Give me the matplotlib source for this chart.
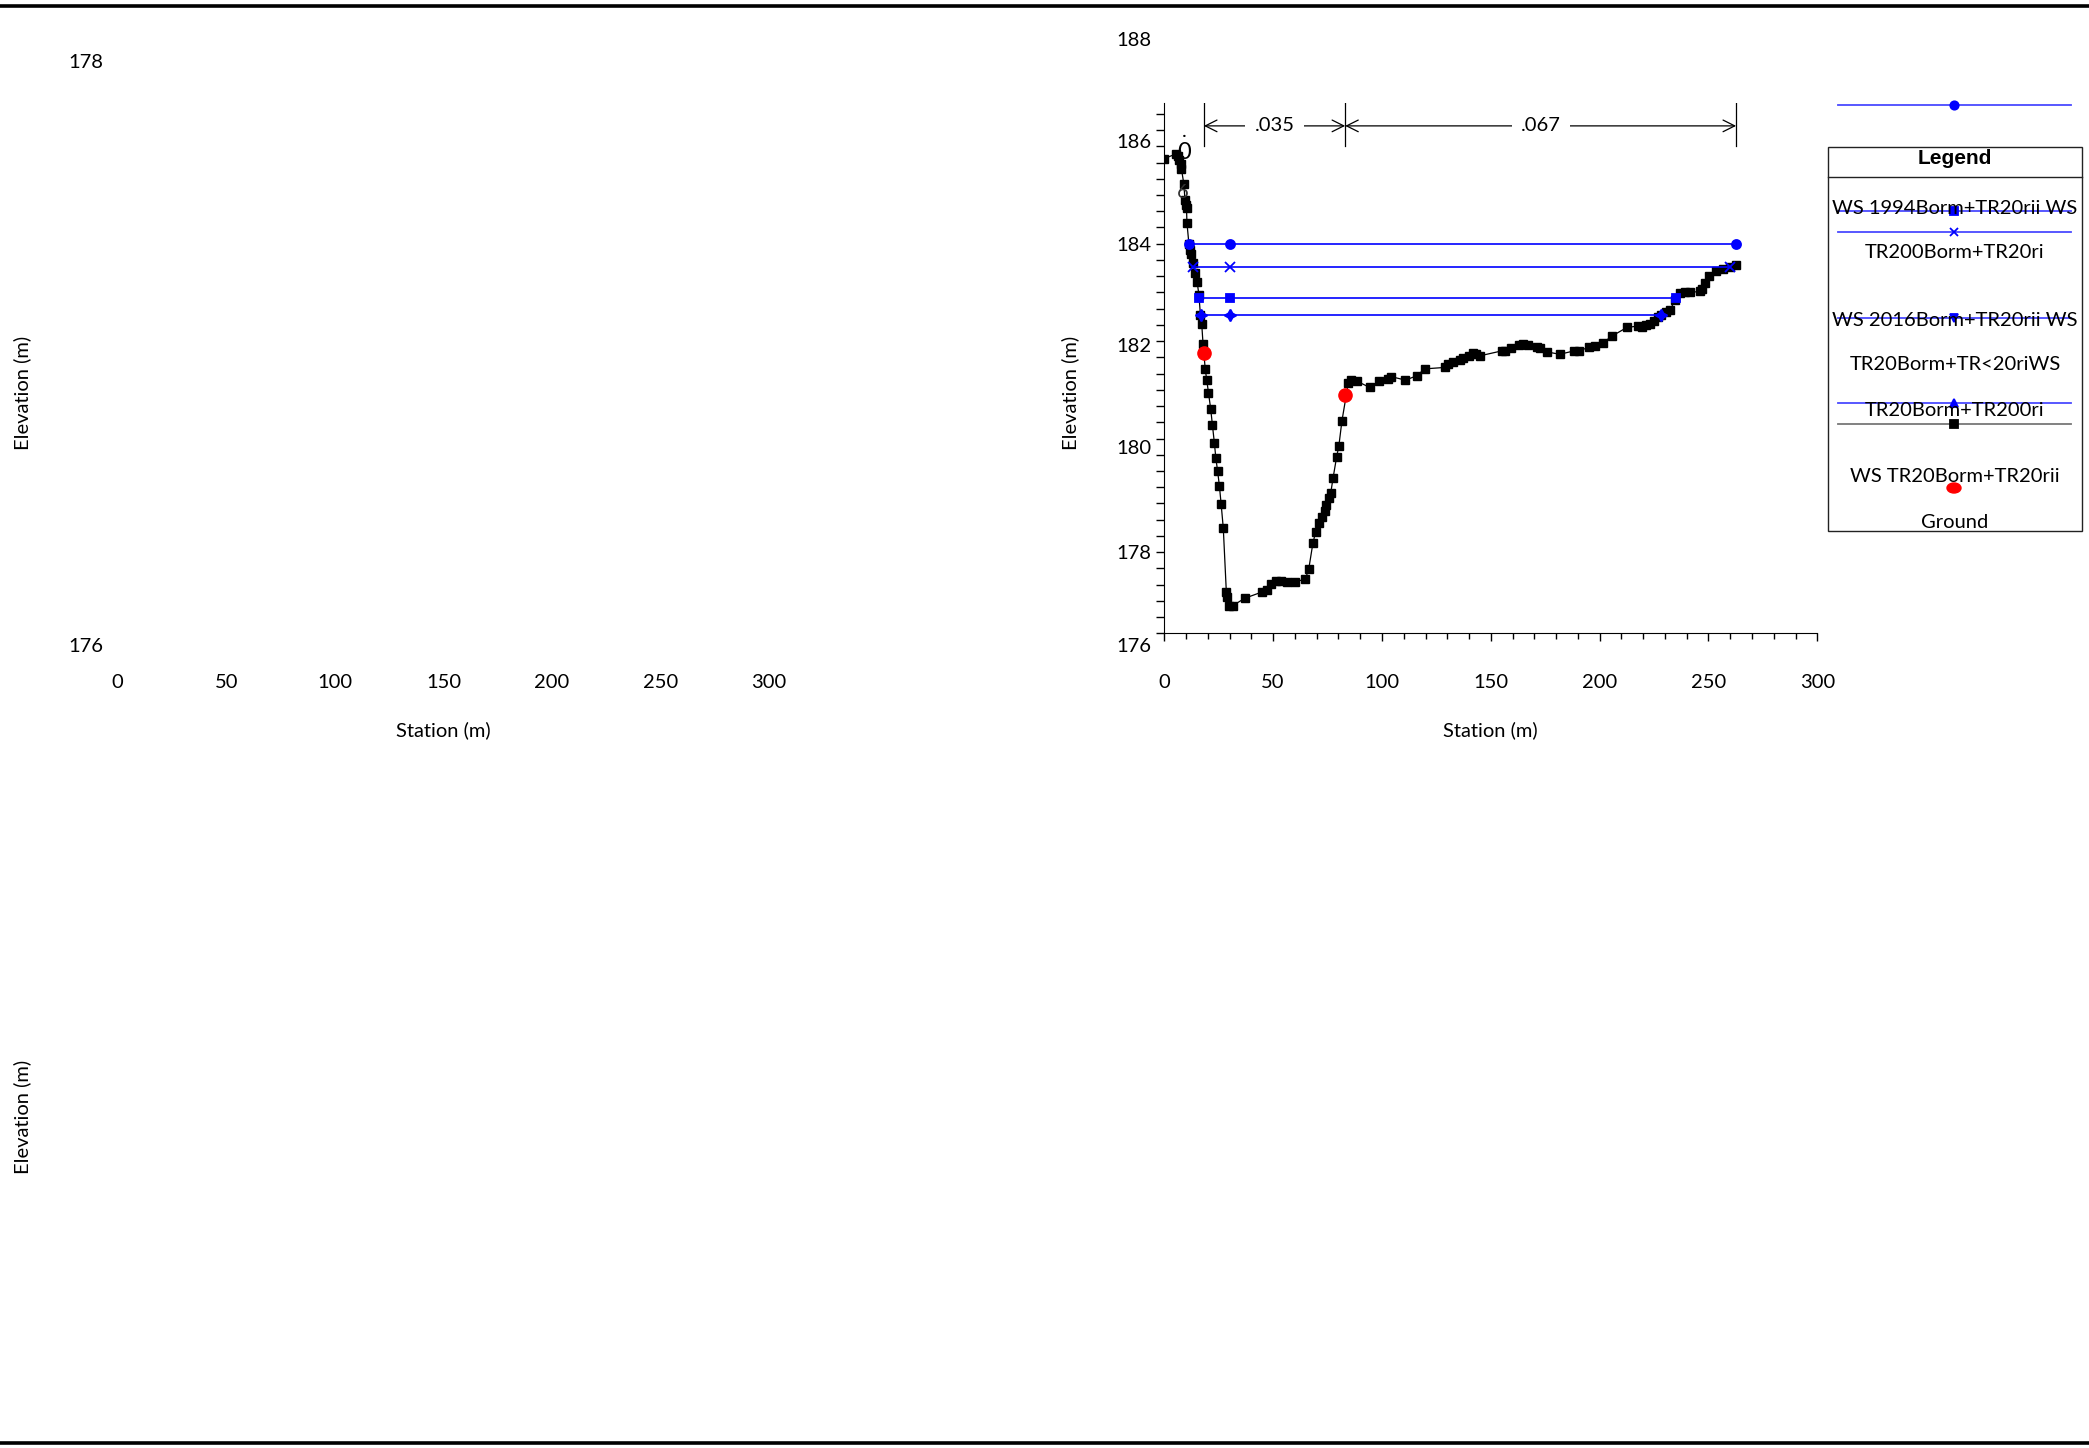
import numpy as np
import matplotlib
matplotlib.use("Agg")
import matplotlib.pyplot as plt
from matplotlib.patches import Rectangle, Ellipse

plt.rcParams['font.family'] = ['Lato', 'DejaVu Sans']

# ground profile (station m, elevation m)
ground_st = [0.0, 5.2, 6.2, 6.8, 7.5, 7.9, 9.0, 9.5, 9.9, 10.2, 10.4, 11.3, 11.9, 12.3,
             13.1, 14.2, 15.1, 15.9, 16.6, 17.2, 17.8, 18.8, 19.5, 20.3, 21.3, 22.1,
             23.0, 23.7, 24.5, 25.3, 26.1, 27.1, 28.5, 28.9, 29.5, 31.5, 37.0, 45.0,
             47.0, 49.0, 51.5, 53.5, 56.6, 60.1, 64.8, 66.4, 68.3, 69.5, 71.0, 72.4,
             73.6, 74.4, 75.7, 76.5, 77.5, 79.2, 80.2, 81.6, 84.5, 85.7, 88.4,
             94.3, 98.6, 102.8, 104.2, 110.8, 116.1, 119.6, 129.0, 130.4, 132.5, 135.8,
             137.0, 140.1, 141.9, 143.4, 145.2, 155.1, 156.7, 159.2, 162.8, 164.9, 167.0,
             171.0, 172.5, 175.6, 181.7, 188.3, 190.3, 195.0, 197.7, 201.6, 205.9, 212.5,
             217.6, 219.3, 221.1, 223.1, 225.2, 226.8, 228.3, 230.5, 232.4, 234.6, 237.1,
             239.1, 241.6, 245.9, 246.9, 248.4, 250.4, 253.5, 256.6, 259.7, 262.7]
ground_el = [185.75, 185.84, 185.80, 185.72, 185.64, 185.53, 185.22, 184.90, 184.80, 184.74,
             184.43, 184.00, 183.87, 183.78, 183.60, 183.40, 183.21, 182.95, 182.53, 182.35,
             181.94, 181.43, 181.20, 180.94, 180.61, 180.28, 179.91, 179.59, 179.33, 179.03,
             178.66, 178.16, 176.85, 176.75, 176.57, 176.57, 176.72, 176.85, 176.89, 177.02,
             177.07, 177.07, 177.06, 177.06, 177.11, 177.33, 177.86, 178.07, 178.27, 178.39,
             178.51, 178.63, 178.77, 178.89, 179.18, 179.63, 179.85, 180.36, 181.13,
             181.21, 181.18, 181.05, 181.18, 181.23, 181.27, 181.20, 181.29, 181.43, 181.46,
             181.53, 181.58, 181.61, 181.65, 181.70, 181.75, 181.73, 181.70, 181.80, 181.80,
             181.85, 181.92, 181.95, 181.93, 181.87, 181.85, 181.78, 181.73, 181.80, 181.80,
             181.87, 181.89, 181.97, 182.11, 182.28, 182.31, 182.30, 182.33, 182.35, 182.42,
             182.49, 182.54, 182.60, 182.64, 182.84, 182.98, 183.01, 183.00, 183.02, 183.08,
             183.20, 183.33, 183.44, 183.48, 183.52, 183.56]

# water surfaces
ws_st = [[11.4, 30.4, 262.7], [13.4, 30.4, 259.7], [16.0, 30.4, 235.0], [16.8, 30.4, 228.3]]
ws_el = [184.00, 183.52, 182.88, 182.54]
ws_markers = ['o', 'x', 's', (4, 1, 0)]
ws_msize = [6.5, 6.5, 5.5, 8.5]

# bank stations
bank_st = [18.2, 83.1]
bank_el = [181.75, 180.89]

# manning's n
n_st = [18.2, 83.1, 262.7]
n_vals = ['.035', '.067']

x_ticks = [0, 50, 100, 150, 200, 250, 300]
y_labels = ['188', '186', '184', '182', '180', '178', '176']
y_label_at = [188.17, 186.07, 183.97, 181.89, 179.80, 177.64, 175.72]

legend_labels = ['WS 1994Borm+TR20rii WS', 'TR200Borm+TR20ri', 'WS 2016Borm+TR20rii WS',
                 'TR20Borm+TR<20riWS', 'TR20Borm+TR200ri', 'WS TR20Borm+TR20rii', 'Ground']

W, H = 2089, 1448
FS = 14.5
fig = plt.figure(figsize=(W / 100, H / 100), dpi=100)


def box(x0, y0, x1, y1):
    return [x0 / W, 1 - y1 / H, (x1 - x0) / W, (y1 - y0) / H]


# right plot
ax = fig.add_axes(box(1164.3, 103, 1817.3, 633.3))
ax.set_xlim(0, 300)
ax.set_ylim(176, 186.89)
for s in ['top', 'right']:
    ax.spines[s].set_visible(False)
ax.set_xticks(x_ticks)
ax.set_xticks(np.arange(0, 301, 10), minor=True)
ax.set_yticks([])
ax.set_yticks(np.arange(176, 186.8, 1 / 3), minor=True)
ax.tick_params(axis='x', which='major', length=6, width=1, labelsize=FS, pad=23.5)
ax.tick_params(axis='x', which='minor', length=4, width=1)
ax.tick_params(axis='y', which='minor', length=5.5, width=1)

ax.plot(ground_st, ground_el, color='black', lw=0.9, marker='s', ms=5.3, zorder=3)
for st, el, m, ms in zip(ws_st, ws_el, ws_markers, ws_msize):
    ax.plot(st, [el] * len(st), color='#0000ff', lw=1.2, marker=m, ms=ms,
            mew=1.3, zorder=4)
ax.plot(bank_st, bank_el, ls='none', marker='o', color='red', ms=9.5, zorder=5)

for x in n_st:
    ax.plot([x, x], [186.0, 186.88], color='black', lw=0.9)
for i, lab in enumerate(n_vals):
    ax.annotate('', xy=(n_st[i], 186.42), xytext=(n_st[i + 1], 186.42),
                arrowprops=dict(arrowstyle='<->', color='black', lw=0.9,
                                shrinkA=0, shrinkB=0, mutation_scale=21))
    ax.text((n_st[i] + n_st[i + 1]) / 2, 186.42, lab, ha='center', va='center',
            fontsize=FS, bbox=dict(boxstyle='square,pad=0.45', fc='white', ec='none'))

ax.text(9.1, 186.3, '.', ha='center', va='center', fontsize=FS)
ax.text(8.9, 185.88, '0', ha='center', va='center', fontsize=17)
ax.text(8.7, 185.05, '6', ha='center', va='center', fontsize=FS, color='#333333')

for lab, v in zip(y_labels, y_label_at):
    ax.text(-0.02, v, lab, transform=ax.get_yaxis_transform(), ha='right',
            va='center', fontsize=FS, clip_on=False)

# left (empty) plot
ax0 = fig.add_axes(box(117.7, 103, 769.2, 633.3))
ax0.set_xlim(0, 300)
ax0.set_ylim(176, 186.89)
for s in ax0.spines.values():
    s.set_visible(False)
ax0.set_xticks(x_ticks)
ax0.set_yticks([])
ax0.tick_params(axis='x', length=0, labelsize=FS, pad=23.5 + 6)

# overlay in pixel coordinates
ov = fig.add_axes([0, 0, 1, 1])
ov.set_xlim(0, W)
ov.set_ylim(H, 0)
ov.axis('off')
ov.patch.set_alpha(0)

ov.plot([0, W], [5.5, 5.5], color='black', lw=2.6)
ov.plot([0, W], [1443, 1443], color='black', lw=2.6)

ov.text(103, 63, '178', ha='right', va='center', fontsize=FS)
ov.text(103, 646.7, '176', ha='right', va='center', fontsize=FS)
ov.text(443, 730, 'Station (m)', ha='center', va='center', fontsize=FS)
ov.text(1490, 730, 'Station (m)', ha='center', va='center', fontsize=FS)
for x, y in [(22.6, 393), (22.6, 1116.5), (1070, 393)]:
    ov.text(x, y, 'Elevation (m)', ha='center', va='center', rotation=90, fontsize=FS)

# legend
lx0, lx1, lxc = 1838, 2071, 1954
ov.add_patch(Rectangle((1828, 146.7), 253.7, 384, fill=False, ec='#222222', lw=1))
ov.plot([1828, 2081.7], [176.7, 176.7], color='#222222', lw=1)
ov.text(1955, 159, 'Legend', ha='center', va='center', fontsize=15,
        fontweight='bold', family='Liberation Sans')

leg_lines = [(105, 'o', '#4a4aff', 'blue'), (211, 's', '#4a4aff', 'blue'),
             (232, 'x', '#4a4aff', 'blue'), (318, 'v', '#4a4aff', 'blue'),
             (402.7, '^', '#4a4aff', 'blue'), (424, 's', '#777777', 'black')]
for y, m, lc, mc in leg_lines:
    ov.plot([lx0, lx1], [y, y], color=lc, lw=1.3)
    ov.plot([lxc], [y], marker=m, color=mc, ms=6, mew=1.3)
ov.add_patch(Ellipse((lxc, 488), 14, 10, color='red'))

for lab, y in zip(legend_labels, [208, 253, 321, 365, 410, 477, 522]):
    ov.text(1955, y, lab, ha='center', va='center', fontsize=FS)

fig.savefig('out.png', dpi=100)
